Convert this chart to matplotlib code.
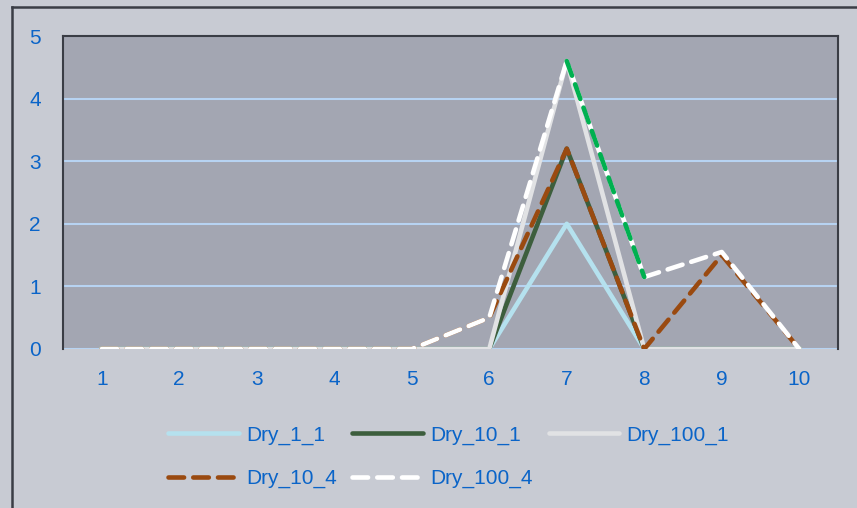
import matplotlib
matplotlib.use("Agg")
import matplotlib.pyplot as plt
from matplotlib.lines import Line2D

categories = [1, 2, 3, 4, 5, 6, 7, 8, 9, 10]
dry_1_1 = [0, 0, 0, 0, 0, 0, 2.0, 0, 0, 0]
dry_10_1 = [0, 0, 0, 0, 0, 0, 3.2, 0, 0, 0]
dry_100_1 = [0, 0, 0, 0, 0, 0, 4.6, 0, 0, 0]
dry_10_4 = [0, 0, 0, 0, 0, 0.5, 3.2, 0, 1.5, 0]
dry_100_4 = [0, 0, 0, 0, 0, 0.5, 4.6, 1.15, 1.55, 0]
y_ticks = [0, 1, 2, 3, 4, 5]

FIG_BG = "#C8CBD3"
AX_BG = "#A3A6B2"
TXT = "#0A64C8"
GRID = "#B7D3F2"

plt.rcParams['font.family'] = ['Liberation Sans', 'DejaVu Sans']

fig = plt.figure(figsize=(8.57, 5.08), dpi=100, facecolor=FIG_BG)
ax = fig.add_axes([63/857, (508-349)/508, (838-63)/857, (349-36)/508])
ax.set_facecolor(AX_BG)

lw = 3.3
dash = (0, (3.4, 2.0))
c1, c2, c3, c4, c5 = "#B5E1EE", "#3D5E3D", "#E1E2E4", "#9A4A10", "white"
ax.plot(categories, dry_1_1, color=c1, lw=lw, label="Dry_1_1", zorder=3)
ax.plot(categories, dry_10_1, color=c2, lw=lw, label="Dry_10_1", zorder=3)
ax.plot(categories, dry_100_1, color=c3, lw=lw, label="Dry_100_1", zorder=3)
ax.plot(categories, dry_10_4, color=c4, lw=lw, ls=dash, dash_capstyle='round', label="Dry_10_4", zorder=3)
ax.plot(categories, dry_100_4, color=c5, lw=lw, ls=dash, dash_capstyle='round', label="Dry_100_4", zorder=3)
# highlighted segment (7 -> 8) of Dry_100_4
ax.plot(categories[6:8], dry_100_4[6:8], color="#00B050", lw=lw, ls=dash, dash_capstyle='round', zorder=4)

ax.set_xlim(0.5, 10.5)
ax.set_ylim(0, 5)
ax.set_yticks(y_ticks)
ax.set_xticks(categories)
ax.set_xticklabels([str(c) for c in categories])
for y in y_ticks[:-1]:
    ax.axhline(y, color=GRID, lw=1.5, zorder=1)
ax.tick_params(length=0, labelsize=15, labelcolor=TXT)
ax.tick_params(axis='y', pad=16)
ax.tick_params(axis='x', pad=15)

for s in ['left', 'top', 'right']:
    ax.spines[s].set_color("#3A3D45")
    ax.spines[s].set_linewidth(1.5)
ax.spines['bottom'].set_visible(False)

def h(color, ls='-'):
    if ls == '-':
        return Line2D([], [], color=color, lw=lw, solid_capstyle='round')
    return Line2D([], [], color=color, lw=lw, ls=dash, dash_capstyle='round')

# ordered so that matplotlib's column-major fill gives row-major layout
handles = [h(c1), h(c4, '--'), h(c2), h(c5, '--'), h(c3)]
labels = ["Dry_1_1", "Dry_10_4", "Dry_10_1", "Dry_100_4", "Dry_100_1"]
leg = fig.legend(handles, labels, ncol=3, loc='upper left', bbox_to_anchor=(149/857, 1 - 407/508),
                 frameon=False, fontsize=15, labelcolor=TXT, handlelength=3.4,
                 handletextpad=0.35, columnspacing=0.75, labelspacing=1.15)

# outer frame lines (top and left)
fig.add_artist(Line2D([12/857, 1], [1 - 7/508, 1 - 7/508], color="#3A3D45", lw=1.8, transform=fig.transFigure))
fig.add_artist(Line2D([12/857, 12/857], [0, 1 - 7/508], color="#3A3D45", lw=1.8, transform=fig.transFigure))

fig.savefig("out.png", dpi=100, facecolor=FIG_BG)
